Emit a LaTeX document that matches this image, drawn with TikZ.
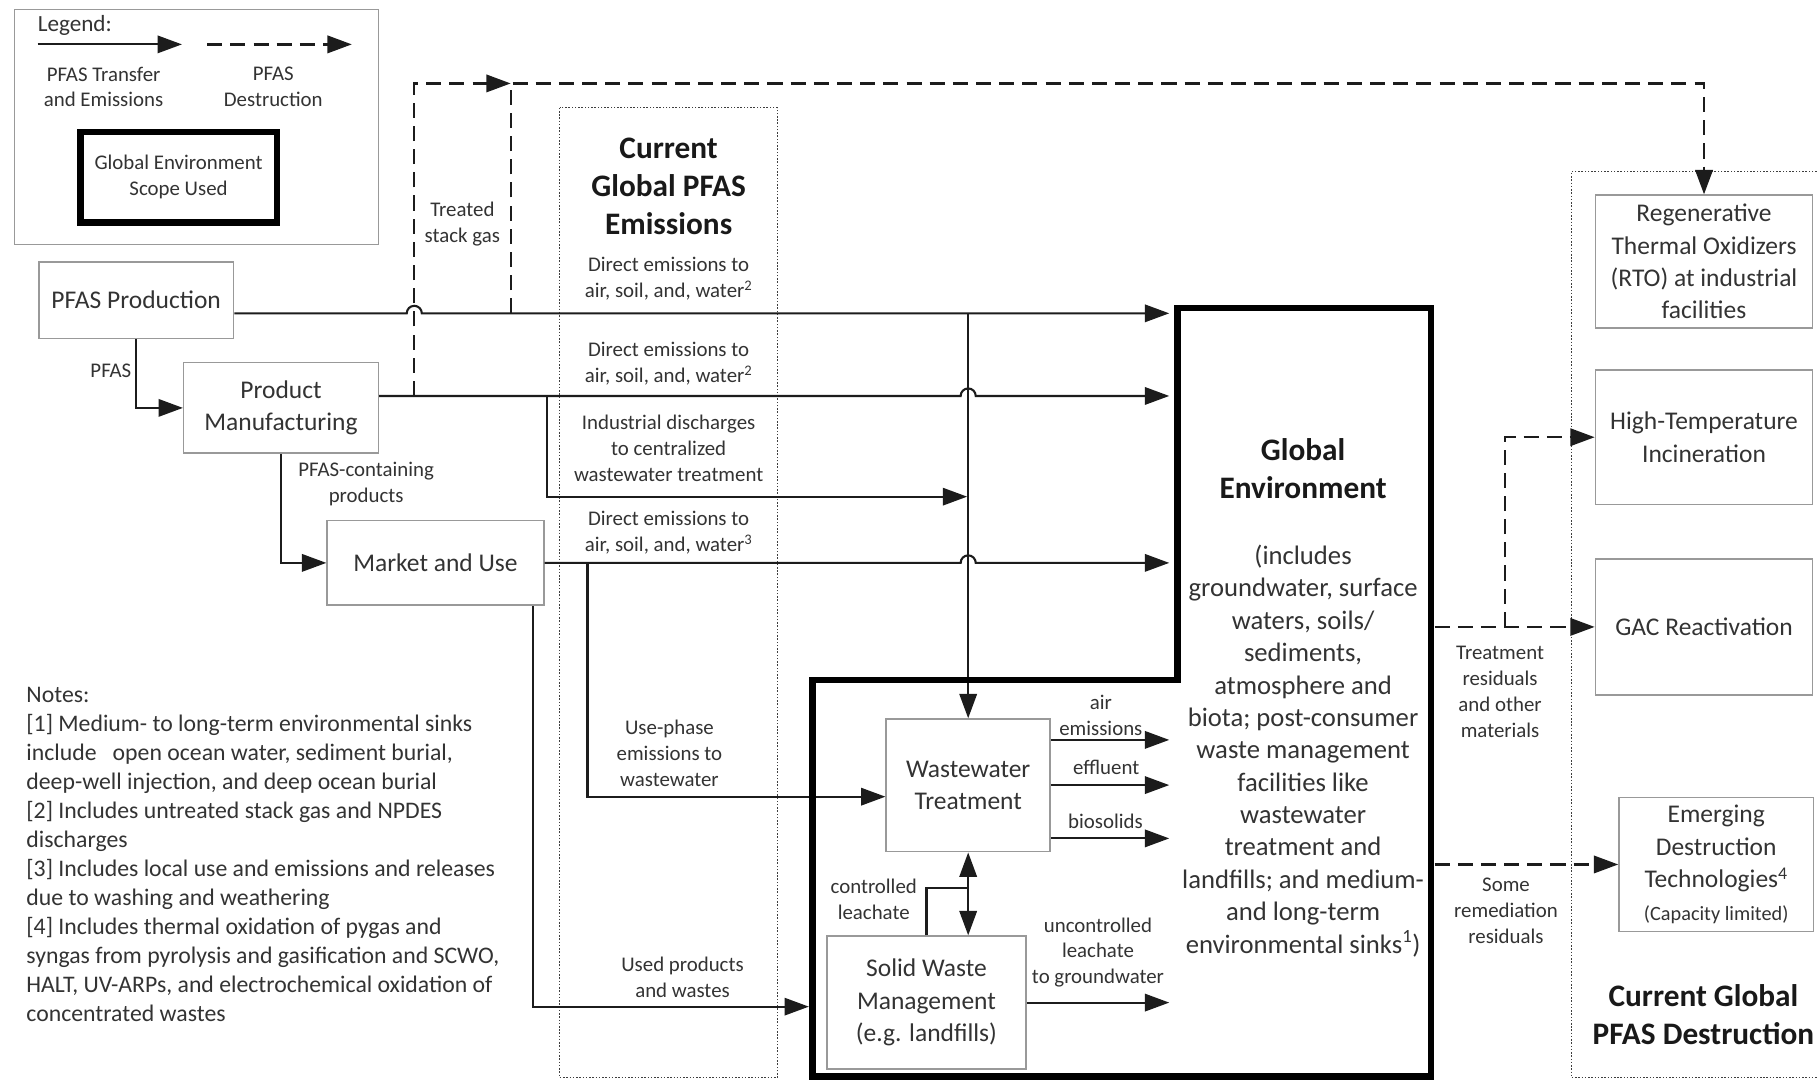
\documentclass[tikz,border=0pt]{standalone}
\usepackage{fontspec}
\setmainfont{Carlito}
\usetikzlibrary{arrows.meta,calc}
\definecolor{txt}{HTML}{333333}
\definecolor{bord}{HTML}{999999}
\definecolor{ln}{HTML}{1C1C1C}
\newcommand{\myfs}[2]{\fontsize{#1}{#2}\selectfont}
\tikzset{
  procbox/.style={draw=bord, line width=1.3pt, fill=white, text=txt, align=center, inner sep=0pt, font=\myfs{22}{28}},
  lab/.style={text=txt, align=center, inner sep=0pt, font=\myfs{18}{22.4}},
  ttl/.style={text=black!90, align=center, inner sep=0pt, font=\bfseries\myfs{27}{33}},
  xline/.style={draw=ln, line width=1.8pt},
  xfer/.style={xline, -{Triangle[length=21pt,width=15pt]}},
  xboth/.style={xline, {Triangle[length=21pt,width=15pt]}-{Triangle[length=21pt,width=15pt]}},
  destln/.style={draw=ln, line width=2pt, dash pattern=on 13pt off 7pt},
  dest/.style={destln, -{Triangle[length=21pt,width=15pt]}},
  scopeln/.style={draw=black, line width=5.5pt, line join=miter},
  dotbox/.style={draw=ln!85, line width=1.2pt, dash pattern=on 1.3pt off 1.5pt}
}
\begin{document}
\begin{tikzpicture}[x=1pt,y=-1pt]
\useasboundingbox[fill=white] (0,0) rectangle (1568,933);

% ---------- dotted group boxes ----------
\draw[dotbox] (483,93) rectangle (671,930);
\draw[dotbox] (1590,148) -- (1356,148) -- (1356,930) -- (1590,930);

% ---------- legend ----------
\draw[draw=bord, line width=1.3pt] (12.3,8) rectangle (326.7,210.8);
\node[anchor=west, text=txt, font=\myfs{20}{24}, inner sep=0pt] (legendttl) at (32.4,21.6) {Legend:};
\coordinate (la1) at (32.4,38.3);
\coordinate (la2) at (157,38.3);
\coordinate (lb1) at (178.8,38.3);
\coordinate (lb2) at (303.6,38.3);
\draw[xfer] (la1) -- (la2);
\draw[dest] (lb1) -- (lb2);
\node[lab] (lkey1) at (89.4,75) {PFAS Transfer\\and Emissions};
\node[lab] (lkey2) at (235.8,75) {PFAS\\Destruction};
\node[draw=black, line width=5.5pt, minimum width=169.5pt, minimum height=77.7pt, text=txt, align=center, font=\myfs{18}{22.2}, inner sep=0pt] (scopekey) at (154.1,153) {Global Environment\\Scope Used};

% ---------- process boxes ----------
\node[procbox, minimum width=168pt, minimum height=66pt] (prod) at (117.5,259) {PFAS Production};
\node[procbox, minimum width=168pt, minimum height=78pt] (manu) at (242.5,352) {Product\\Manufacturing};
\node[procbox, minimum width=187pt, minimum height=73pt] (market) at (375.75,485.75) {Market and Use};
\node[procbox, minimum width=141.5pt, minimum height=114.5pt] (wwt) at (835.5,677.75) {Wastewater\\Treatment};
\node[procbox, minimum width=171.5pt, minimum height=114.8pt] (swm) at (799.5,865.2) {Solid Waste\\Management\\(e.g. landfills)};
\node[procbox, minimum width=187.5pt, minimum height=114.7pt] (rto) at (1470.5,225.7) {Regenerative\\Thermal Oxidizers\\(RTO) at industrial\\facilities};
\node[procbox, minimum width=187.5pt, minimum height=116pt] (hti) at (1470.5,377.3) {High-Temperature\\Incineration};
\node[procbox, minimum width=187.5pt, minimum height=117.4pt] (gac) at (1470.5,541) {GAC Reactivation};
\node[procbox, minimum width=167.8pt, minimum height=115.8pt] (emerg) at (1481,746) {Emerging\\Destruction\\Technologies\textsuperscript{4}\\{\myfs{17.5}{22}(Capacity limited)}};

% ---------- helper coordinates ----------
\coordinate (y1) at (0,270.4);
\coordinate (y2) at (0,341.7);
\coordinate (y3) at (0,485.75);
\coordinate (y4) at (0,428.6);
\coordinate (y5) at (0,687.5);
\coordinate (y6) at (0,868.7);
\coordinate (y7) at (0,766);
\coordinate (o1) at (0,638.5);
\coordinate (o2) at (0,677.5);
\coordinate (o3) at (0,723.5);
\coordinate (envL) at (1009,0);
\coordinate (envR) at (1238,0);
\coordinate (scopeL) at (698,0);
\coordinate (trunk) at (835.5,0);
\coordinate (hopA) at (357.5,270.4);
\coordinate (stackL) at (357.5,72);
\coordinate (stackR) at (440.7,72);
\coordinate (rtoTurn) at (1470.5,72);
\coordinate (br1) at (472.4,0);
\coordinate (br2) at (507,0);
\coordinate (br3) at (460,0);
\coordinate (br4) at (1298.5,0);

% ---------- destruction (dashed) flows ----------
\draw[dest] (hopA |- y2) -- (stackL) -- (stackR);
\draw[dest] (stackR |- y1) -- (stackR) -- (rtoTurn) -- (rto.north);
\draw[dest] (envR |- gac.west) -- (gac.west);
\draw[dest] (br4 |- gac.west) |- (hti.west);
\draw[dest] (envR |- emerg.west) -- (emerg.west);

% ---------- transfer (solid) flows ----------
\draw[xfer] (prod.east |- y1) -- ($(hopA)+(-6.5,0)$) arc[start angle=180,end angle=0,radius=6.5pt] -- (envL |- y1);
\draw[xfer] (trunk |- y1) -- (wwt.north);
\draw[xfer] (manu.east |- y2) -- ($(trunk |- y2)+(-6.5,0)$) arc[start angle=180,end angle=0,radius=6.5pt] -- (envL |- y2);
\draw[xfer] (br1 |- y2) |- ($(trunk |- y4)+(-0.9,0)$);
\draw[xfer] (market.east) -- ($(trunk |- y3)+(-6.5,0)$) arc[start angle=180,end angle=0,radius=6.5pt] -- (envL |- y3);
\draw[xfer] (br2 |- y3) |- (wwt.west |- y5);
\draw[xfer] (br3 |- market.south) |- (scopeL |- y6);
\draw[xfer] (prod.south) |- (manu.west);
\draw[xfer] (manu.south) |- (market.west);
\draw[xfer] (wwt.east |- o1) -- (envL |- o1);
\draw[xfer] (wwt.east |- o2) -- (envL |- o2);
\draw[xfer] (wwt.east |- o3) -- (envL |- o3);
\draw[xboth] (wwt.south) -- (swm.north -| wwt.south);
\draw[xline] (swm.north) |- (trunk |- y7);
\draw[xfer] (swm.east) -- (envL |- swm.east);

% ---------- global environment scope ----------
\draw[scopeln] (1016,266) -- (1235,266) -- (1235,929) -- (701,929) -- (701,587) -- (1016,587) -- cycle;
\node[ttl] (envttl) at (1124.5,404.5) {Global\\Environment};
\node[text=txt, align=center, inner sep=0pt, font=\myfs{23}{27.95}] (envbody) at (1124.5,648) {(includes\\groundwater, surface\\waters, soils/\\sediments,\\atmosphere and\\biota; post-consumer\\waste management\\facilities like\\wastewater\\treatment and\\landfills; and medium-\\and long-term\\environmental sinks\textsuperscript{1})};

% ---------- titles ----------
\node[ttl] (emittl) at (577,161) {Current\\Global PFAS\\Emissions};
\node[ttl] (destttl) at (1470,875.7) {Current Global\\PFAS Destruction};

% ---------- labels ----------
\node[lab] (lstack) at (399,193.5) {Treated\\stack gas};
\node[lab] (lpfas) at (95.7,320) {PFAS};
\node[lab] (lcont) at (316,418) {PFAS-containing\\products};
\node[lab] (le1) at (577,240.3) {Direct emissions to\\air, soil, and, water\textsuperscript{2}};
\node[lab] (le2) at (577,313.8) {Direct emissions to\\air, soil, and, water\textsuperscript{2}};
\node[lab] (le3) at (577,386.5) {Industrial discharges\\to centralized\\wastewater treatment};
\node[lab] (le4) at (577,459.8) {Direct emissions to\\air, soil, and, water\textsuperscript{3}};
\node[lab] (le5) at (577.7,650.3) {Use-phase\\emissions to\\wastewater};
\node[lab] (le6) at (589,843.5) {Used products\\and wastes};
\node[lab] (lair) at (950,617) {air\\emissions};
\node[lab] (leff) at (954.6,662) {effluent};
\node[lab] (lbio) at (954,709) {biosolids};
\node[lab] (lctl) at (754,776) {controlled\\leachate};
\node[lab] (lunc) at (947.5,822) {uncontrolled\\leachate\\to groundwater};
\node[lab] (ltreat) at (1294.5,597) {Treatment\\residuals\\and other\\materials};
\node[lab] (lsome) at (1299.6,785.7) {Some\\remediation\\residuals};

% ---------- notes ----------
\foreach \i/\t in {0/{Notes:},
  1/{[1] Medium- to long-term environmental sinks},
  2/{include\ \ \ open ocean water, sediment burial,},
  3/{deep-well injection, and deep ocean burial},
  4/{[2] Includes untreated stack gas and NPDES},
  5/{discharges},
  6/{[3] Includes local use and emissions and releases},
  7/{due to washing and weathering},
  8/{[4] Includes thermal oxidation of pygas and},
  9/{syngas from pyrolysis and gasification and SCWO,},
  10/{HALT, UV-ARPs, and electrochemical oxidation of},
  11/{concentrated wastes}}
  \node[anchor=base west, text=txt, inner sep=0pt, font=\myfs{20.5}{25}] (note\i) at (22.6,{606+25.05*\i}) {\t};

\end{tikzpicture}
\end{document}
